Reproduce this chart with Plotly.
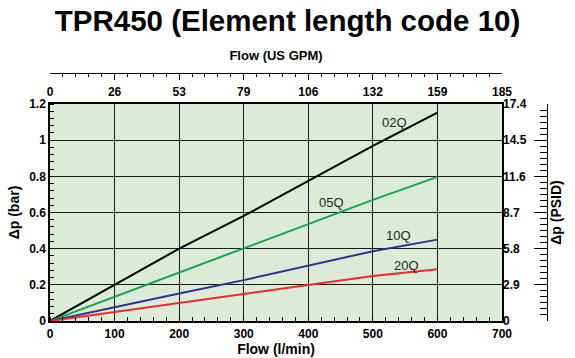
import plotly.graph_objects as go

# ---- data ----
flow_lpm = [0, 100, 200, 300, 400, 500, 600]
dp_02Q = [0, 0.200, 0.400, 0.581, 0.775, 0.968, 1.152]
dp_05Q = [0, 0.134, 0.266, 0.402, 0.535, 0.670, 0.797]
dp_10Q = [0, 0.077, 0.152, 0.226, 0.305, 0.386, 0.450]
dp_20Q = [0, 0.050, 0.099, 0.148, 0.199, 0.249, 0.286]

series_names = ["02Q", "05Q", "10Q", "20Q"]
series_colors = ["#000000", "#12a54a", "#2e3192", "#ee2a2e"]
label_pos = [(534, 1.10), (436, 0.655), (539, 0.472), (552, 0.306)]

x_ticks = [0, 100, 200, 300, 400, 500, 600, 700]
gpm_labels = ["0", "26", "53", "79", "106", "132", "159", "185"]
bar_ticks = [0, 0.2, 0.4, 0.6, 0.8, 1.0, 1.2]
bar_labels = ["0", "0.2", "0.4", "0.6", "0.8", "1", "1.2"]
psid_ticks = [0, 2.9, 5.8, 8.7, 11.6, 14.5, 17.4]
psid_labels = ["0", "2.9", "5.8", "8.7", "11.6", "14.5", "17.4"]

FONT = "Liberation Sans"
bold = dict(family=FONT, size=12, color="#000000", weight="bold")
title_font = dict(family=FONT, size=14, color="#000000", weight="bold")

fig = go.Figure()
for name, ys, col in zip(series_names, [dp_02Q, dp_05Q, dp_10Q, dp_20Q], series_colors):
    fig.add_trace(go.Scatter(x=flow_lpm, y=ys, mode="lines", name=name,
                             line=dict(color=col, width=2), showlegend=False,
                             xaxis="x", yaxis="y"))
# empty helper traces to activate the secondary axes
fig.add_trace(go.Scatter(x=[], y=[], xaxis="x2", yaxis="y2", showlegend=False, hoverinfo="skip"))
fig.add_trace(go.Scatter(x=[], y=[], xaxis="x3", yaxis="y3", showlegend=False, hoverinfo="skip"))

for name, (lx, ly) in zip(series_names, label_pos):
    fig.add_annotation(x=lx, y=ly, xref="x", yref="y", text=name, showarrow=False,
                       font=dict(family=FONT, size=13, color="#231f20"))

XD = [0, 0.9095]
YD = [0, 0.875]

fig.update_layout(
    width=575, height=358,
    margin=dict(l=50, r=28, t=73, b=37, autoexpand=False),
    paper_bgcolor="white",
    plot_bgcolor="#dcebd6",
    template="none",
    title=dict(text="TPR450 (Element length code 10)", x=0.5, xanchor="center",
               y=1 - 21 / 358, yanchor="middle", yref="container",
               font=dict(family=FONT, size=29.5, color="#000000", weight="bold")),
    xaxis=dict(domain=XD, range=[0, 700], tickmode="array", tickvals=x_ticks,
               ticktext=[str(v) for v in x_ticks], tickfont=bold,
               ticklabelstandoff=1,
               showgrid=True, gridcolor="#1a1a1a", gridwidth=1, zeroline=False,
               showline=True, linecolor="#000000", linewidth=1.5, mirror=True,
               ticks="", ticklen=0,
               minor=dict(dtick=20, tick0=0, ticks="inside", ticklen=4,
                          tickcolor="#000000", tickwidth=1, showgrid=False),
               title=dict(text="Flow (l/min)", font=title_font, standoff=3),
               automargin=False),
    yaxis=dict(domain=YD, range=[0, 1.2], tickmode="array", tickvals=bar_ticks,
               ticktext=bar_labels, tickfont=bold,
               showgrid=True, gridcolor="#1a1a1a", gridwidth=1, zeroline=False,
               showline=True, linecolor="#000000", linewidth=1.5, mirror=True,
               ticks="", ticklen=0,
               minor=dict(dtick=0.04, tick0=0, ticks="inside", ticklen=4,
                          tickcolor="#000000", tickwidth=1, showgrid=False),
               title=dict(text="Δp (bar)", font=title_font, standoff=6),
               automargin=False),
    xaxis2=dict(overlaying="x", side="top", anchor="free", position=1,
                range=[0, 700], tickmode="array", tickvals=x_ticks,
                showticklabels=False, showgrid=False, zeroline=False,
                showline=True, linecolor="#000000", linewidth=1.2,
                ticks="inside", ticklen=6, tickcolor="#000000", tickwidth=1,
                minor=dict(dtick=20, tick0=0, ticks="inside", ticklen=3,
                           tickcolor="#000000", tickwidth=1, showgrid=False),
                title=dict(text="Flow (US GPM)", font=dict(family=FONT, size=13, color="#000000", weight="bold"),
                           standoff=8),
                automargin=False),
    xaxis3=dict(overlaying="x", side="top", anchor="y", range=[0, 700],
                tickmode="array", tickvals=x_ticks, ticktext=gpm_labels,
                tickfont=bold, ticklabelstandoff=5,
                showgrid=False, zeroline=False, showline=False,
                ticks="", automargin=False),
    yaxis2=dict(overlaying="y", side="right", anchor="free", position=1,
                range=[0, 17.4], tickmode="array", tickvals=psid_ticks,
                showticklabels=False, showgrid=False, zeroline=False,
                showline=True, linecolor="#000000", linewidth=1.2,
                ticks="inside", ticklen=13, tickcolor="#000000", tickwidth=1,
                minor=dict(dtick=2.9 / 6, tick0=0, ticks="inside", ticklen=7,
                           tickcolor="#000000", tickwidth=1, showgrid=False),
                title=dict(text="Δp (PSID)", font=title_font, standoff=4),
                automargin=False),
    yaxis3=dict(overlaying="y", side="right", anchor="x", range=[0, 17.4],
                tickmode="array", tickvals=psid_ticks, ticktext=psid_labels,
                tickfont=bold, showgrid=False, zeroline=False, showline=False,
                ticks="", automargin=False),
)

fig.write_html("out.html",
               config={"displayModeBar": False},
               post_script="document.body.style.margin='0';document.body.style.overflow='hidden';")
